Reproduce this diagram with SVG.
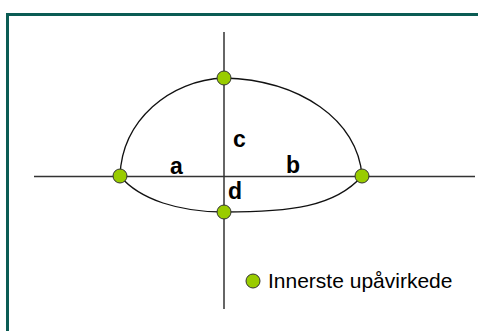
<svg xmlns="http://www.w3.org/2000/svg" width="478" height="331" viewBox="0 0 478 331">
<style>
.axis{stroke:#333;stroke-width:1.5;fill:none}
.curve{stroke:#111;stroke-width:1.3;fill:none}
.dot{fill:#99cc00;stroke:#333;stroke-width:1}
.lbl{font-family:"Liberation Sans",Arial,sans-serif;font-weight:bold;font-size:23px;fill:#000}
.leg{font-family:"Liberation Sans",Arial,sans-serif;font-size:21px;fill:#000}
</style>
<rect width="478" height="331" fill="#fff"/>
<g id="frame">
<rect x="6" y="13" width="472" height="3" fill="#0b5c54"/>
<rect x="6" y="13" width="3" height="318" fill="#0b5c54"/>
</g>
<g id="connectors">
<line class="axis" x1="34" y1="176.5" x2="475" y2="176.5"/>
<line class="axis" x1="224" y1="32" x2="224" y2="309"/>
<path class="curve" d="M120,176 C122,120 170,80 224,78"/>
<path class="curve" d="M224,78 C300,80 358,120 362,176"/>
<path class="curve" d="M120,176 C140,200 180,212 224,212"/>
<path class="curve" d="M224,212 C290,212 335,207 362,176"/>
</g>
<g id="labels">
<text class="lbl" x="233" y="147">c</text>
<text class="lbl" x="170" y="174">a</text>
<text class="lbl" x="286" y="173">b</text>
<text class="lbl" x="228" y="199">d</text>
</g>
<g id="node-top"><circle class="dot" cx="224" cy="78" r="7"/></g>
<g id="node-left"><circle class="dot" cx="120" cy="176" r="7"/></g>
<g id="node-right"><circle class="dot" cx="362" cy="176" r="7"/></g>
<g id="node-bottom"><circle class="dot" cx="224" cy="212" r="7"/></g>
<g id="legend">
<circle class="dot" cx="253" cy="281" r="7"/>
<text class="leg" x="268" y="288">Innerste upåvirkede</text>
</g>
</svg>
